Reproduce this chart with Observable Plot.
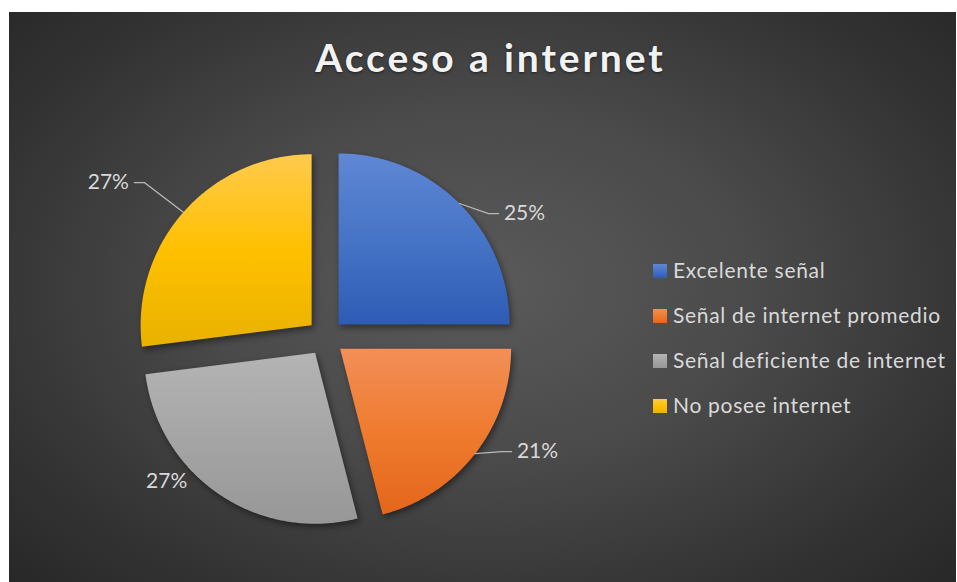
<!DOCTYPE html>
<html><head><meta charset="utf-8">
<script src="https://cdn.jsdelivr.net/npm/d3@7"></script>
<script src="https://cdn.jsdelivr.net/npm/@observablehq/plot@0.6"></script>
<style>
html,body{margin:0;padding:0;background:#fff;}
#chart{position:absolute;left:9px;top:12px;width:947px;height:570px;overflow:hidden;
  background: radial-gradient(ellipse 72% 78% at 50% 48%, #5a5a5a 0%, #4a4a4a 40%, #333333 75%, #262626 100%);}
#plot{position:absolute;left:0;top:0;}
#title{position:absolute;left:8px;width:947px;top:26px;text-align:center;font-family:Lato,sans-serif;font-weight:700;
  font-size:39px;line-height:39px;letter-spacing:2.9px;color:#f2f2f2;text-shadow:0 1px 3px rgba(0,0,0,0.55);}
#legend{position:absolute;left:644px;top:248px;font-family:Lato,sans-serif;font-size:21px;line-height:20px;letter-spacing:0.7px;color:#d9d9d9;}
.row{position:absolute;left:0;white-space:nowrap;}
.sw{position:absolute;left:0;top:4px;width:14px;height:14px;}
.lab{position:absolute;left:20px;top:0;}
</style>
</head><body>
<div id="chart">
  <div id="plot"></div>
  <div id="title">Acceso a internet</div>
  <div id="legend"></div>
</div>
<script>
// ---- data ----
const categories = ["Excelente señal", "Señal de internet promedio", "Señal deficiente de internet", "No posee internet"];
const percentages = [25, 21, 27, 27];
const percentLabels = ["25%", "21%", "27%", "27%"];

// ---- styles ----
const gradTop = ["#5f87d4", "#f28f58", "#b4b4b4", "#ffca4d"];
const gradMid = ["#4674c6", "#ef7b2f", "#a5a5a5", "#ffc000"];
const gradBot = ["#2e5cb5", "#e4661b", "#979797", "#e8b200"];

// ---- layout (in pie-radius units) ----
const pxPerUnit = 171;
const W = 947, H = 570, cx = 316, cy = 325;
const explode = 18.5 / pxPerUnit;
const labelLayout = [
  {r: 1.371, a: 58.1, leader: true},
  {r: 1.408, a: 118.3, leader: true},
  {r: 1.254, a: 227.8, leader: false},
  {r: 1.56, a: 305.5, leader: true}
];

const pie = d3.pie().sort(null).value(d => d)(percentages);
const slices = pie.map((p, i) => {
  const mid = (p.startAngle + p.endAngle) / 2;
  const ox = explode * Math.sin(mid), oy = explode * Math.cos(mid);
  const n = Math.max(2, Math.ceil((p.endAngle - p.startAngle) / 0.01));
  const pts = [{x: ox, y: oy}];
  for (let k = 0; k <= n; k++) {
    const a = p.startAngle + (p.endAngle - p.startAngle) * k / n;
    pts.push({x: ox + Math.sin(a), y: oy + Math.cos(a)});
  }
  return {i, mid, ox, oy, pts};
});

const px = 1 / pxPerUnit;
const labels = slices.map(s => {
  const L = labelLayout[s.i];
  const a = L.a * Math.PI / 180;
  return {i: s.i, text: percentLabels[s.i], x: L.r * Math.sin(a), y: L.r * Math.cos(a),
    px: s.ox + Math.sin(s.mid), py: s.oy + Math.cos(s.mid), leader: L.leader};
});
const leaders = labels.filter(d => d.leader).map(d => {
  const side = d.x > d.px ? 1 : -1;
  const halfW = 21 * px;
  const endX = d.x - side * (halfW + 5 * px);
  const elbowX = endX - side * 10 * px;
  return [{x: d.px, y: d.py}, {x: elbowX, y: d.y}, {x: endX, y: d.y}];
});

const svg = Plot.plot({
  width: W, height: H,
  margin: 0,
  x: {domain: [-cx / pxPerUnit, (W - cx) / pxPerUnit], axis: null},
  y: {domain: [-(H - cy) / pxPerUnit, cy / pxPerUnit], axis: null},
  style: {background: "transparent", fontFamily: "Lato, sans-serif"},
  marks: [
    ...slices.map(s => Plot.line(s.pts, {x: "x", y: "y", fill: `url(#slice${s.i})`, stroke: "none", curve: "linear-closed"})),
    ...leaders.map(l => Plot.line(l, {x: "x", y: "y", stroke: "#b8b8b8", strokeWidth: 1.3})),
    Plot.text(labels, {x: "x", y: "y", text: "text", fill: "#d9d9d9", fontSize: 21, textAnchor: "middle"})
  ]
});

const defs = d3.select(svg).insert("defs", ":first-child");
percentages.forEach((_, i) => {
  const g = defs.append("linearGradient").attr("id", `slice${i}`).attr("x1", 0).attr("y1", 0).attr("x2", 0).attr("y2", 1);
  g.append("stop").attr("offset", "0%").attr("stop-color", gradTop[i]);
  g.append("stop").attr("offset", "50%").attr("stop-color", gradMid[i]);
  g.append("stop").attr("offset", "100%").attr("stop-color", gradBot[i]);
});
d3.select(svg).selectAll("g[fill^='url(#slice']").style("filter", "drop-shadow(2px 3px 3px rgba(0,0,0,0.45))");
document.getElementById("plot").appendChild(svg);

// legend
const leg = d3.select("#legend");
categories.forEach((c, i) => {
  const row = leg.append("div").attr("class", "row").style("top", `${i * 45}px`);
  row.append("div").attr("class", "sw").style("background", `linear-gradient(${gradTop[i]}, ${gradMid[i]}, ${gradBot[i]})`);
  row.append("div").attr("class", "lab").text(c);
});
</script>
</body></html>
